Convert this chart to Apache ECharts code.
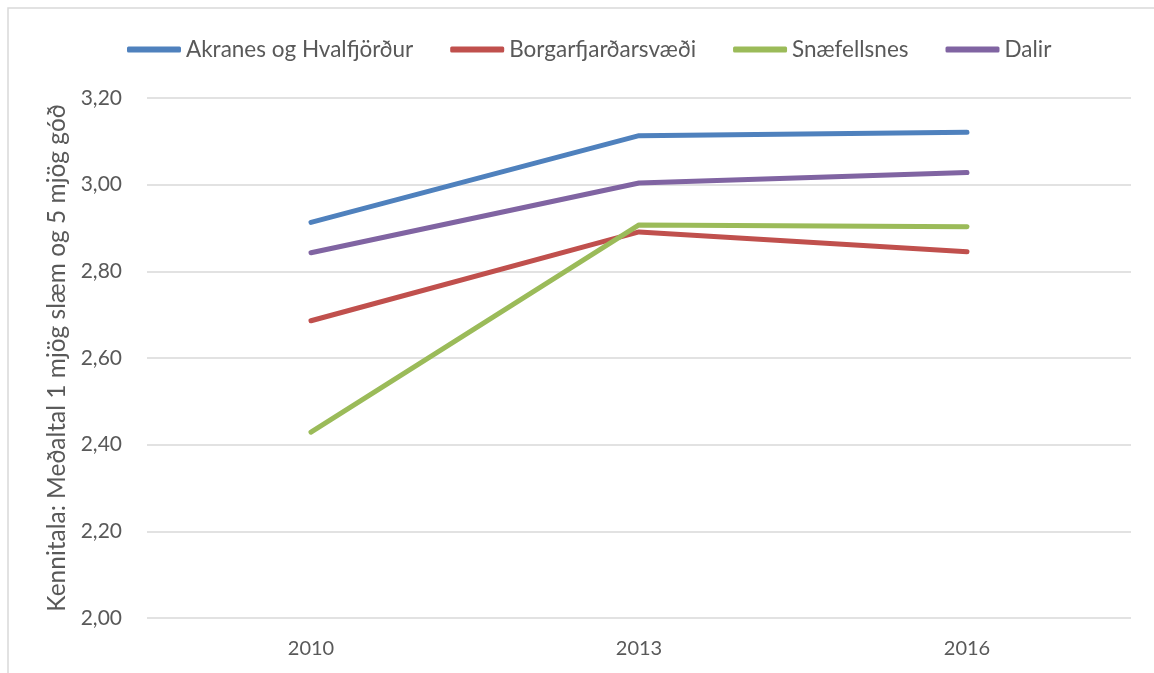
<!DOCTYPE html>
<html>
<head>
<meta charset="utf-8">
<script src="https://cdn.jsdelivr.net/npm/echarts@6/dist/echarts.min.js"></script>
<style>
html,body{margin:0;padding:0;background:#fff;}
#chart{width:1154px;height:673px;}
</style>
</head>
<body>
<div id="chart"></div>
<script>
const categories = ['2010', '2013', '2016'];
const seriesNames = ['Akranes og Hvalfjörður', 'Borgarfjarðarsvæði', 'Snæfellsnes', 'Dalir'];
const akranes = [2.913, 3.113, 3.121];
const borgarfjordur = [2.686, 2.891, 2.845];
const snaefellsnes = [2.429, 2.907, 2.903];
const dalir = [2.843, 3.004, 3.028];
const colors = ['#4F81BD', '#C0504D', '#9BBB59', '#8064A2'];
const yTitle = 'Kennitala: Meðaltal 1 mjög slæm og 5 mjög góð';

const values = [akranes, borgarfjordur, snaefellsnes, dalir];
const font = 'Lato, "Open Sans", sans-serif';
const chart = echarts.init(document.getElementById('chart'), null, {renderer: 'canvas'});
chart.setOption({
  animation: false,
  backgroundColor: '#fff',
  color: colors,
  graphic: [{
    type: 'rect',
    shape: {x: 8, y: 8, width: 1200, height: 700},
    style: {fill: 'none', stroke: '#D9D9D9', lineWidth: 1.5},
    silent: true
  }],
  legend: {
    top: 33,
    left: 122,
    itemWidth: 54,
    itemHeight: 6,
    itemGap: 37,
    icon: 'roundRect',
    textStyle: {color: '#595959', fontSize: 22.5, fontFamily: font, padding: [0, 0, 0, 0]},
    data: seriesNames
  },
  grid: {left: 147, right: 23, top: 98, bottom: 55},
  xAxis: {
    type: 'category',
    data: categories,
    boundaryGap: true,
    axisLine: {show: false},
    axisTick: {show: false},
    axisLabel: {color: '#595959', fontSize: 20, fontFamily: font, margin: 21}
  },
  yAxis: {
    type: 'value',
    min: 2.0,
    max: 3.2,
    interval: 0.2,
    name: yTitle,
    nameLocation: 'middle',
    nameGap: 75,
    nameTextStyle: {color: '#595959', fontSize: 24.5, fontFamily: font},
    axisLine: {show: false},
    axisTick: {show: false},
    splitLine: {lineStyle: {color: '#D9D9D9', width: 1.5}},
    axisLabel: {
      color: '#595959', fontSize: 21, fontFamily: font, margin: 25,
      formatter: v => v.toFixed(2).replace('.', ',')
    }
  },
  series: seriesNames.map((n, i) => ({
    name: n,
    type: 'line',
    data: values[i],
    symbol: 'none',
    lineStyle: {width: 5, color: colors[i], cap: 'round', join: 'round'},
    itemStyle: {color: colors[i]}
  }))
});
</script>
</body>
</html>
